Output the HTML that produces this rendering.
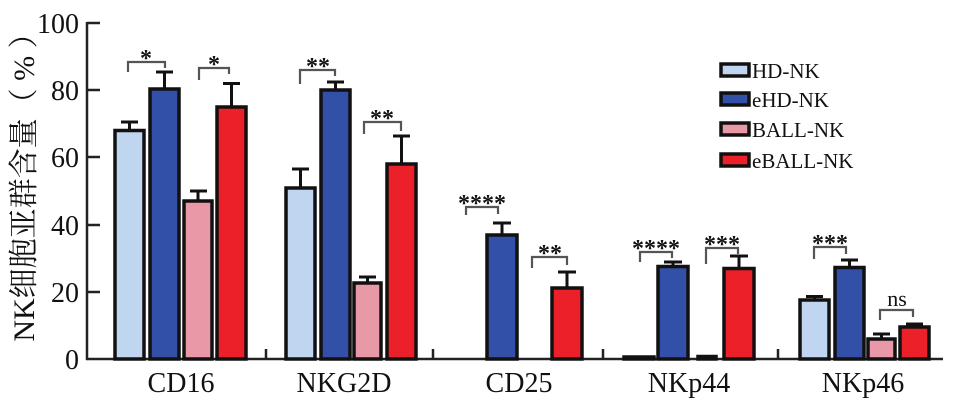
<!DOCTYPE html>
<html><head><meta charset="utf-8"><style>
html,body{margin:0;padding:0;background:#fff;}
svg{display:block;}
text{font-family:"Liberation Serif","Noto Serif CJK SC",serif;fill:#111;}
</style></head><body>
<svg width="958" height="406" viewBox="0 0 958 406" xmlns="http://www.w3.org/2000/svg">
<g stroke="#222" stroke-width="2.5" fill="none">
<line x1="87" y1="22" x2="87" y2="360"/>
<line x1="86" y1="359" x2="943" y2="359"/>
<line x1="87" y1="23" x2="100" y2="23"/>
<line x1="87" y1="90" x2="100" y2="90"/>
<line x1="87" y1="157" x2="100" y2="157"/>
<line x1="87" y1="225" x2="100" y2="225"/>
<line x1="87" y1="292" x2="100" y2="292"/>
<line x1="266" y1="349" x2="266" y2="359"/>
<line x1="433" y1="349" x2="433" y2="359"/>
<line x1="603" y1="349" x2="603" y2="359"/>
<line x1="778" y1="349" x2="778" y2="359"/>
</g>
<g font-size="28" text-anchor="end">
<text x="79" y="33">100</text><text x="79" y="100">80</text><text x="79" y="167">60</text>
<text x="79" y="235">40</text><text x="79" y="302">20</text><text x="79" y="369">0</text>
</g>
<text transform="translate(34,180) rotate(-90)" font-size="30" text-anchor="middle">NK细胞亚群含量（ % ）</text>
<g font-size="28" text-anchor="middle">
<text x="181" y="392">CD16</text><text x="344" y="392">NKG2D</text><text x="519" y="392">CD25</text>
<text x="689" y="392">NKp44</text><text x="863" y="392">NKp46</text>
</g>
<g stroke="#111" stroke-width="3.5">
<rect x="115" y="130.5" width="29" height="228.5" fill="#bfd5f0"/>
<rect x="150" y="89" width="29" height="270" fill="#3350a8"/>
<rect x="184" y="201" width="28" height="158" fill="#e898a6"/>
<rect x="217" y="107" width="29" height="252" fill="#ec2028"/>
<rect x="286" y="188" width="29" height="171" fill="#bfd5f0"/>
<rect x="321" y="90" width="29" height="269" fill="#3350a8"/>
<rect x="354" y="283" width="27" height="76" fill="#e898a6"/>
<rect x="387" y="164" width="29" height="195" fill="#ec2028"/>
<rect x="487" y="235" width="30" height="124" fill="#3350a8"/>
<rect x="552" y="288" width="30" height="71" fill="#ec2028"/>
<rect x="624" y="357" width="30" height="2" fill="#bfd5f0"/>
<rect x="658" y="266.5" width="30" height="92.5" fill="#3350a8"/>
<rect x="698" y="356.5" width="18" height="2.5" fill="#e898a6"/>
<rect x="724" y="268.5" width="30" height="90.5" fill="#ec2028"/>
<rect x="800" y="300" width="29" height="59" fill="#bfd5f0"/>
<rect x="835" y="267.5" width="29" height="91.5" fill="#3350a8"/>
<rect x="868" y="339" width="27" height="20" fill="#e898a6"/>
<rect x="900" y="327" width="29" height="32" fill="#ec2028"/>
</g>
<g stroke="#111" stroke-width="3" fill="none">
<path d="M129.5 130V122M121 122H138"/>
<path d="M164.5 89V72M156 72H173"/>
<path d="M198 201V191M190 191H207"/>
<path d="M231.5 107V83.5M223 83.5H240"/>
<path d="M300.5 188V169M292 169H309"/>
<path d="M335.5 90V82M327 82H344"/>
<path d="M367.5 283V277M359 277H376"/>
<path d="M401.5 164V136M393 136H410"/>
<path d="M502 235V223M493 223H511"/>
<path d="M567 288V272M558 272H576"/>
<path d="M673 266.5V262M664 262H682"/>
<path d="M739 268.5V256M730 256H748"/>
<path d="M814.5 300V296.5M806 296.5H823"/>
<path d="M849.5 267.5V260M841 260H858"/>
<path d="M881.5 339V334M873 334H890"/>
<path d="M914.5 327V324M906 324H923"/>
</g>
<g stroke="#555" stroke-width="2.2" fill="none">
<path d="M128 72V62H165V68"/>
<path d="M199 80V68H229V74"/>
<path d="M300 84V70H335V76"/>
<path d="M364 134V122H401V131"/>
<path d="M466 215V207H498V214"/>
<path d="M532 268V257H567V265"/>
<path d="M640 262V252H672V258"/>
<path d="M706 264V248H738V254"/>
<path d="M814 259V247H846V254"/>
<path d="M880 320V310H913V317"/>
</g>
<g font-size="24" font-weight="bold" text-anchor="middle">
<text x="146" y="66">*</text><text x="214" y="72">*</text>
<text x="318" y="74">**</text><text x="382" y="126">**</text>
<text x="482" y="211">****</text><text x="550" y="261">**</text>
<text x="656" y="256">****</text><text x="722" y="252">***</text>
<text x="830" y="251">***</text><text x="897" y="306" font-size="22" font-weight="normal">ns</text>
</g>
<g stroke="#111" stroke-width="3.5">
<rect x="721" y="64" width="28" height="12" fill="#bfd5f0"/>
<rect x="721" y="93" width="28" height="12" fill="#3350a8"/>
<rect x="721" y="123" width="28" height="12" fill="#e898a6"/>
<rect x="721" y="154" width="28" height="12" fill="#ec2028"/>
</g>
<g font-size="21">
<text x="752" y="78">HD-NK</text><text x="752" y="107">eHD-NK</text>
<text x="752" y="137">BALL-NK</text><text x="752" y="168">eBALL-NK</text>
</g>
</svg>
</body></html>
